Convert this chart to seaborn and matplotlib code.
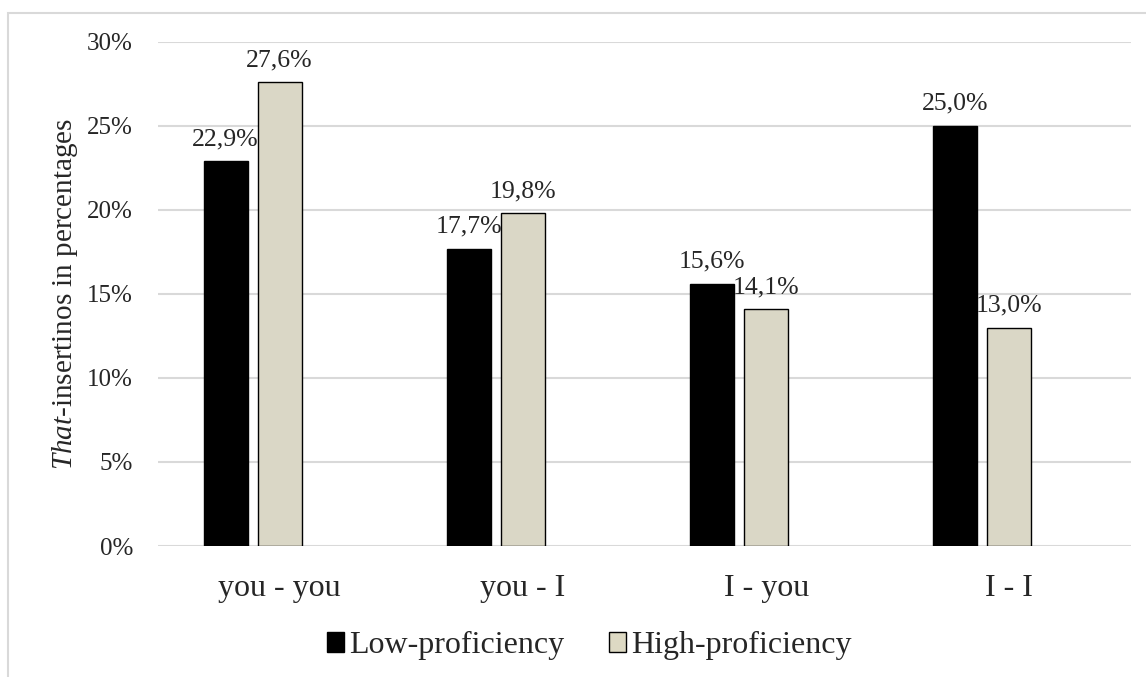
import matplotlib
matplotlib.use("Agg")
import matplotlib.pyplot as plt
from matplotlib.patches import Rectangle
import seaborn as sns
import pandas as pd

categories = ["you - you", "you - I", "I - you", "I - I"]
groups = ["Low-proficiency", "High-proficiency"]
low_values = [22.9, 17.7, 15.6, 25.0]
high_values = [27.6, 19.8, 14.1, 13.0]
y_ticks = [0, 5, 10, 15, 20, 25, 30]
colors = ["#000000", "#DDD9C3"]

df = pd.DataFrame({
    "pair": categories * 2,
    "group": [groups[0]] * 4 + [groups[1]] * 4,
    "value": low_values + high_values,
})

sns.set_theme(style="white")
plt.rcParams["font.family"] = ["Liberation Serif", "DejaVu Serif"]
plt.rcParams["mathtext.fontset"] = "custom"
plt.rcParams["mathtext.it"] = "Liberation Serif:italic"
plt.rcParams["mathtext.rm"] = "Liberation Serif"

fig = plt.figure(figsize=(11.46, 6.77), dpi=100)
fig.patch.set_facecolor("white")
ax = fig.add_axes([0.1379, 0.1935, 0.849, 0.7445])

# three dodge slots per category; the third slot is an empty series
slot_order = groups + [" "]
sns.barplot(data=df, x="pair", y="value", hue="group", order=categories,
            hue_order=slot_order, palette=colors + ["#FFFFFF"], width=0.667, gap=0.185,
            edgecolor="black", linewidth=1.0, ax=ax, legend=False, zorder=3)

ax.set_ylim(0, 30)
ax.set_xlim(-0.5, 3.5)
ax.set_yticks(y_ticks)
ax.set_yticklabels([f"{t}%" for t in y_ticks], fontsize=18)
ax.tick_params(axis="x", labelsize=23, length=0, pad=20)
ax.tick_params(axis="y", length=0, pad=18)
ax.grid(axis="y", color="#D9D9D9", linewidth=1.5, zorder=0)
ax.grid(axis="x", visible=False)
for s in ax.spines.values():
    s.set_visible(False)
ax.set_xlabel("")
ax.set_ylabel(r"$\mathit{That}$-insertinos in percentages", fontsize=21, labelpad=5)

for container in ax.containers:
    if len(container.datavalues) == 0:
        continue
    labels = [f"{v:.1f}%".replace(".", ",") for v in container.datavalues]
    ax.bar_label(container, labels=labels, fontsize=18.5, padding=8)

handles = [Rectangle((0, 0), 1, 1, facecolor=c, edgecolor="black", linewidth=1) for c in colors]
fig.legend(handles, groups, loc="center", bbox_to_anchor=(0.514, 0.046), ncol=2,
           frameon=False, fontsize=23, handlelength=0.55, handleheight=0.55,
           handletextpad=0.15, columnspacing=1.4)

fig.add_artist(Rectangle((8 / 1146, -0.1), 1.2, (677 - 13) / 677 + 0.1,
                         transform=fig.transFigure, fill=False,
                         edgecolor="#D9D9D9", linewidth=1.5))

fig.savefig("out.png", dpi=100)
